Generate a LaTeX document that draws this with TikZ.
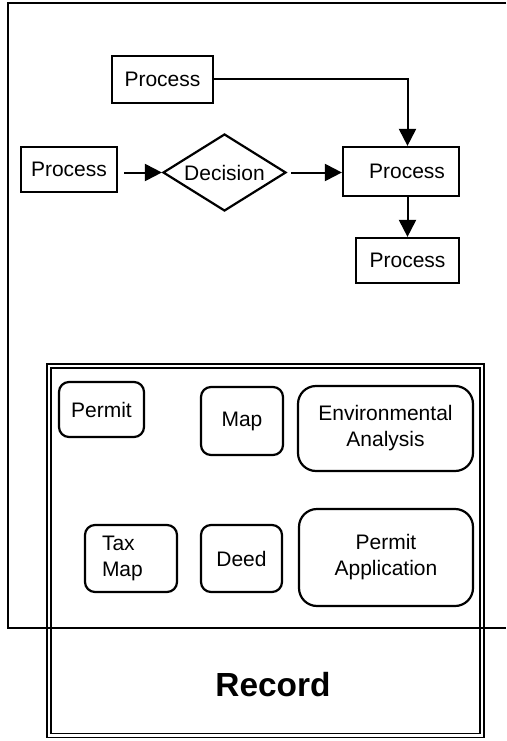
\documentclass[tikz,border=0pt]{standalone}
\usepackage{fontspec}
\setmainfont{Liberation Sans}
\usetikzlibrary{shapes.geometric,arrows.meta}
\begin{document}
\begin{tikzpicture}[x=1pt,y=-1pt,
  box/.style={draw,line width=2.2pt,rectangle,inner sep=0pt,font=\fontsize{21}{26}\selectfont,align=center},
  rbox/.style={box,rounded corners=10pt},
  bigrbox/.style={box,rounded corners=18pt},
  dec/.style={draw,line width=2.2pt,diamond,aspect=1.6,inner sep=0pt,font=\fontsize{21}{26}\selectfont},
  flow/.style={line width=2pt,-{Triangle[length=17pt,width=17pt]}},
  frame/.style={line width=2.2pt},
  recbox/.style={draw,double,line width=1.6pt,double distance=2.4pt,rectangle,inner sep=0pt}
]
\useasboundingbox (0,0) rectangle (506,741);

% outer open frame
\draw[frame] (506,3) -- (8,3) -- (8,628);

% flowchart
\node[box,minimum width=101pt,minimum height=47pt] (tp) at (162.5,79.5) {Process};
\node[box,minimum width=96pt,minimum height=45pt] (lp) at (69,169.5) {Process};
\node[dec,minimum width=123pt,minimum height=77pt] (d) at (224.5,172.5) {Decision};
\node[box,minimum width=116pt,minimum height=49pt,text width=88pt,align=right,inner xsep=14pt] (rp) at (401,171.5) {Process};
\node[box,minimum width=103pt,minimum height=45pt] (bp) at (407.5,260.5) {Process};

\draw[flow,shorten <=6pt] (lp.east |- d.west) -- (d.west);
\draw[flow,shorten <=4pt] (d.east) -- (rp.west |- d.east);
\draw[flow] (tp.east) -| (bp.north |- rp.north);
\draw[flow] (bp.north |- rp.south) -- (bp.north);

% record
\node[recbox,minimum width=433pt,minimum height=369.5pt] (rec) at (265.25,550.75) {};
\node[font=\fontsize{33.4}{40}\selectfont\bfseries] (reclabel) at (273,685) {Record};

\node[rbox,minimum width=85pt,minimum height=55pt] (permit) at (101.5,409.5) {Permit};
\node[rbox,minimum width=82pt,minimum height=68pt] (map) at (242,421) {Map};
\node[bigrbox,minimum width=175pt,minimum height=85pt] (env) at (385.5,428.5) {Environmental\\Analysis};
\node[rbox,minimum width=92pt,minimum height=67pt,text width=58pt,align=left,inner xsep=17pt] (tax) at (131,558.5) {Tax\\Map};
\node[rbox,minimum width=81pt,minimum height=67pt] (deed) at (241.5,558.5) {Deed};
\node[bigrbox,minimum width=174pt,minimum height=97pt] (papp) at (386,557.5) {Permit\\Application};

% horizontal line over everything
\draw[frame] (7,628) -- (506,628);
\end{tikzpicture}
\end{document}
